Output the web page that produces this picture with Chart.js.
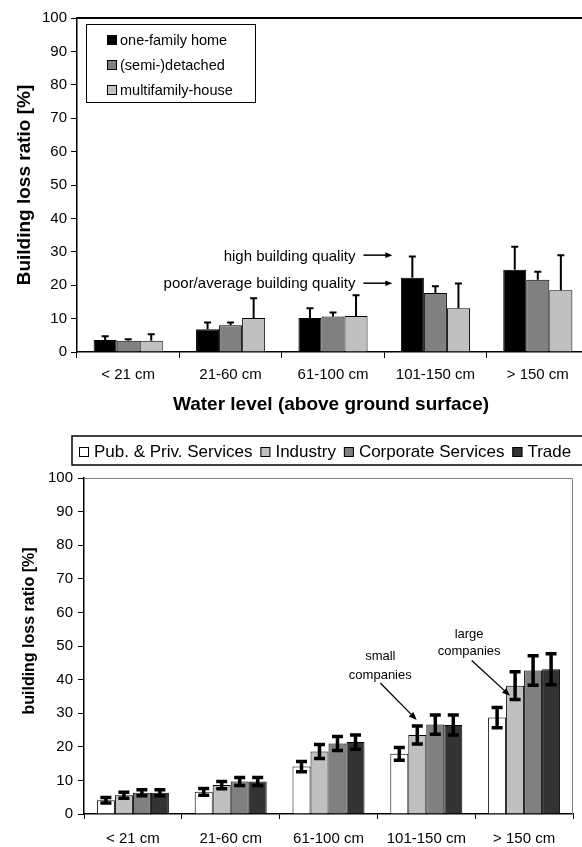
<!DOCTYPE html>
<html>
<head>
<meta charset="utf-8">
<script src="https://cdn.jsdelivr.net/npm/chart.js@4.4.1/dist/chart.umd.min.js"></script>
<style>
  html, body { margin: 0; padding: 0; background: #fff; overflow: hidden; }
  #chartTop { position: absolute; left: 0; top: 0; }
  #chartBottom { position: absolute; left: 0; top: 420px; }
</style>
</head>
<body>
<canvas id="chartTop" width="600" height="420"></canvas>
<canvas id="chartBottom" width="582" height="427"></canvas>
<script>
// categories (water level)
const levels = ["< 21 cm", "21-60 cm", "61-100 cm", "101-150 cm", "> 150 cm"];

// top chart: private households, mean + upper whisker end
const houseTypes = ["one-family home", "(semi-)detached", "multifamily-house"];
const oneFamily = [3.6, 6.8, 10.2, 22.2, 24.6];
const semiDetached = [3.4, 8.0, 10.6, 17.7, 21.6];
const multiFamily = [3.4, 10.2, 10.8, 13.1, 18.5];
const oneFamilyUpper = [4.7, 8.8, 13.1, 28.6, 31.5];
const semiDetachedUpper = [3.8, 8.8, 11.8, 19.7, 24.0];
const multiFamilyUpper = [5.3, 16.1, 17.0, 20.5, 29.0];

// bottom chart: companies, mean +/- error
const sectors = ["Pub. & Priv. Services", "Industry", "Corporate Services", "Trade"];
const pubPriv = [4.1, 6.6, 14.1, 17.9, 28.7];
const industry = [5.6, 8.6, 18.6, 23.5, 38.2];
const corporate = [6.3, 9.7, 21.0, 26.6, 42.7];
const trade = [6.3, 9.7, 21.4, 26.5, 43.1];
const pubPrivErr = [0.8, 1.0, 1.5, 1.9, 3.0];
const industryErr = [0.9, 1.1, 2.1, 2.7, 4.1];
const corporateErr = [0.9, 1.2, 2.1, 2.9, 4.4];
const tradeErr = [0.9, 1.2, 2.1, 3.0, 4.6];

const yTicks = [0, 10, 20, 30, 40, 50, 60, 70, 80, 90, 100];

const FONT = "'Liberation Sans', Arial, sans-serif";
Chart.defaults.font.family = FONT;
Chart.defaults.color = '#000';

function drawArrow(ctx, x1, y1, x2, y2, head) {
  const a = Math.atan2(y2 - y1, x2 - x1);
  ctx.beginPath();
  ctx.moveTo(x1, y1);
  ctx.lineTo(x2 - Math.cos(a) * head * 0.8, y2 - Math.sin(a) * head * 0.8);
  ctx.stroke();
  ctx.beginPath();
  ctx.moveTo(x2, y2);
  ctx.lineTo(x2 - head * Math.cos(a) + head * 0.4 * Math.sin(a), y2 - head * Math.sin(a) - head * 0.4 * Math.cos(a));
  ctx.lineTo(x2 - head * Math.cos(a) - head * 0.4 * Math.sin(a), y2 - head * Math.sin(a) + head * 0.4 * Math.cos(a));
  ctx.closePath();
  ctx.fill();
}

// ---------- top chart ----------
const topUppers = [oneFamilyUpper, semiDetachedUpper, multiFamilyUpper];

const topExtras = {
  id: 'topExtras',
  afterDatasetsDraw(chart) {
    const ctx = chart.ctx;
    const xs = chart.scales.x, ys = chart.scales.y, area = chart.chartArea;
    ctx.save();
    ctx.strokeStyle = '#000';
    ctx.fillStyle = '#000';

    // whiskers (upper only)
    ctx.lineWidth = 2;
    chart.data.datasets.forEach((ds, i) => {
      chart.getDatasetMeta(i).data.forEach((bar, j) => {
        const yt = ys.getPixelForValue(topUppers[i][j]);
        ctx.beginPath();
        ctx.moveTo(bar.x, bar.y);
        ctx.lineTo(bar.x, yt);
        ctx.moveTo(bar.x - 3.5, yt);
        ctx.lineTo(bar.x + 3.5, yt);
        ctx.stroke();
      });
    });

    // top frame line
    ctx.lineWidth = 2;
    ctx.beginPath();
    ctx.moveTo(area.left, area.top);
    ctx.lineTo(chart.width, area.top);
    ctx.stroke();

    // annotations
    const c3 = xs.getPixelForValue(3);
    ctx.font = '15px ' + FONT;
    ctx.textAlign = 'right';
    ctx.textBaseline = 'middle';
    const yHigh = ys.getPixelForValue(29.0);
    const yPoor = ys.getPixelForValue(20.6);
    ctx.fillText('high building quality', c3 - 80, yHigh + 1.5);
    ctx.fillText('poor/average building quality', c3 - 80, yPoor + 1);
    ctx.lineWidth = 1.5;
    drawArrow(ctx, c3 - 72, yHigh, c3 - 43, yHigh, 7);
    drawArrow(ctx, c3 - 72, yPoor, c3 - 43, yPoor, 7);

    // legend box
    ctx.fillStyle = '#fff';
    ctx.fillRect(86, 24, 169, 78);
    ctx.lineWidth = 1;
    ctx.strokeRect(86.5, 24.5, 169, 78);
    ctx.font = '14.5px ' + FONT;
    ctx.textAlign = 'left';
    chart.data.datasets.forEach((ds, i) => {
      const cy = 40 + i * 25;
      ctx.fillStyle = ds.backgroundColor;
      ctx.fillRect(107, cy - 5, 10, 10);
      ctx.strokeRect(107.5, cy - 4.5, 9, 9);
      ctx.fillStyle = '#000';
      ctx.fillText(ds.label, 120, cy + 1);
    });

    // axis titles
    ctx.font = 'bold 19px ' + FONT;
    ctx.textAlign = 'center';
    ctx.fillText('Water level (above ground surface)', 331, 405);
    ctx.save();
    ctx.translate(25, (area.top + area.bottom) / 2);
    ctx.rotate(-Math.PI / 2);
    ctx.fillText('Building loss ratio [%]', 0, 0);
    ctx.restore();

    ctx.restore();
  }
};

new Chart(document.getElementById('chartTop'), {
  type: 'bar',
  data: {
    labels: levels,
    datasets: [
      { label: houseTypes[0], data: oneFamily, backgroundColor: '#000000' },
      { label: houseTypes[1], data: semiDetached, backgroundColor: '#808080' },
      { label: houseTypes[2], data: multiFamily, backgroundColor: '#c0c0c0' }
    ].map(d => Object.assign(d, { borderColor: '#000', borderWidth: 1, categoryPercentage: 0.675, barPercentage: 1 }))
  },
  options: {
    responsive: false,
    animation: false,
    layout: { padding: { left: 0, right: 11, top: 18, bottom: 0 } },
    plugins: { legend: { display: false }, tooltip: { enabled: false } },
    scales: {
      x: {
        grid: { drawOnChartArea: false, drawTicks: true, tickLength: 6, color: '#000' },
        border: { color: '#000', width: 1.5 },
        ticks: { font: { size: 15 }, padding: 8, maxRotation: 0 },
        afterFit: s => { s.height = 68; }
      },
      y: {
        min: 0, max: 100,
        afterBuildTicks: s => { s.ticks = yTicks.map(v => ({ value: v })); },
        grid: { drawOnChartArea: false, drawTicks: true, tickLength: 6, color: '#000' },
        border: { color: '#000', width: 1.5 },
        ticks: { font: { size: 15 }, padding: 4 },
        afterFit: s => { s.width = 77; }
      }
    }
  },
  plugins: [topExtras]
});

// ---------- bottom chart ----------
const bottomErrs = [pubPrivErr, industryErr, corporateErr, tradeErr];

const bottomExtras = {
  id: 'bottomExtras',
  afterDatasetsDraw(chart) {
    const ctx = chart.ctx;
    const xs = chart.scales.x, ys = chart.scales.y, area = chart.chartArea;
    ctx.save();
    ctx.strokeStyle = '#000';
    ctx.fillStyle = '#000';

    // frame (top / right, grey)
    ctx.strokeStyle = '#808080';
    ctx.lineWidth = 1;
    ctx.beginPath();
    ctx.moveTo(area.left, area.top + 0.5);
    ctx.lineTo(area.right - 0.5, area.top + 0.5);
    ctx.lineTo(area.right - 0.5, area.bottom);
    ctx.stroke();

    // error bars
    ctx.strokeStyle = '#000';
    ctx.lineWidth = 3.5;
    chart.data.datasets.forEach((ds, i) => {
      chart.getDatasetMeta(i).data.forEach((bar, j) => {
        const v = ds.data[j], e = bottomErrs[i][j];
        const y1 = ys.getPixelForValue(v + e), y2 = ys.getPixelForValue(v - e);
        ctx.beginPath();
        ctx.moveTo(bar.x, y1);
        ctx.lineTo(bar.x, y2);
        ctx.moveTo(bar.x - 5.5, y1);
        ctx.lineTo(bar.x + 5.5, y1);
        ctx.moveTo(bar.x - 5.5, y2);
        ctx.lineTo(bar.x + 5.5, y2);
        ctx.stroke();
      });
    });

    // annotations
    const c3 = xs.getPixelForValue(3), c4 = xs.getPixelForValue(4);
    ctx.font = '13px ' + FONT;
    ctx.textAlign = 'center';
    ctx.textBaseline = 'middle';
    ctx.fillText('small', c3 - 46, ys.getPixelForValue(46.9));
    ctx.fillText('companies', c3 - 46, ys.getPixelForValue(41.2));
    ctx.fillText('large', c4 - 55, ys.getPixelForValue(53.3));
    ctx.fillText('companies', c4 - 55, ys.getPixelForValue(48.3));
    ctx.lineWidth = 1.3;
    drawArrow(ctx, c3 - 46, ys.getPixelForValue(39.0), c3 - 9.6, ys.getPixelForValue(28.0), 8);
    drawArrow(ctx, c4 - 52.4, ys.getPixelForValue(45.7), c4 - 14.1, ys.getPixelForValue(35.2), 8);

    // legend box along the top
    ctx.lineWidth = 1.5;
    ctx.strokeRect(72, 16, chart.width, 29);
    ctx.font = '17px ' + FONT;
    ctx.textAlign = 'left';
    let lx = 79;
    chart.data.datasets.forEach((ds, i) => {
      ctx.fillStyle = ds.backgroundColor;
      ctx.fillRect(lx, 27, 10, 10);
      ctx.lineWidth = 1;
      ctx.strokeRect(lx + 0.5, 27.5, 9, 9);
      ctx.fillStyle = '#000';
      ctx.fillText(ds.label, lx + 15, 32.5);
      lx += 15 + ctx.measureText(ds.label).width + 8;
    });

    // y title
    ctx.font = 'bold 16px ' + FONT;
    ctx.textAlign = 'center';
    ctx.save();
    ctx.translate(30, 211);
    ctx.rotate(-Math.PI / 2);
    ctx.fillText('building loss ratio [%]', 0, 0);
    ctx.restore();

    ctx.restore();
  }
};

new Chart(document.getElementById('chartBottom'), {
  type: 'bar',
  data: {
    labels: levels,
    datasets: [
      { label: sectors[0], data: pubPriv, backgroundColor: '#ffffff' },
      { label: sectors[1], data: industry, backgroundColor: '#c0c0c0' },
      { label: sectors[2], data: corporate, backgroundColor: '#808080' },
      { label: sectors[3], data: trade, backgroundColor: '#333333' }
    ].map(d => Object.assign(d, { borderColor: '#000', borderWidth: 1, categoryPercentage: 0.736, barPercentage: 1 }))
  },
  options: {
    responsive: false,
    animation: false,
    layout: { padding: { left: 0, right: 9, top: 58, bottom: 0 } },
    plugins: { legend: { display: false }, tooltip: { enabled: false } },
    scales: {
      x: {
        grid: { drawOnChartArea: false, drawTicks: true, tickLength: 5, color: '#000' },
        border: { color: '#000', width: 1.5 },
        ticks: { font: { size: 15 }, padding: 11, maxRotation: 0 },
        afterFit: s => { s.height = 33; }
      },
      y: {
        min: 0, max: 100,
        afterBuildTicks: s => { s.ticks = yTicks.map(v => ({ value: v })); },
        grid: { drawOnChartArea: false, drawTicks: true, tickLength: 6, color: '#000' },
        border: { color: '#000', width: 1.5 },
        ticks: { font: { size: 15 }, padding: 5 },
        afterFit: s => { s.width = 84; }
      }
    }
  },
  plugins: [bottomExtras]
});
</script>
</body>
</html>
